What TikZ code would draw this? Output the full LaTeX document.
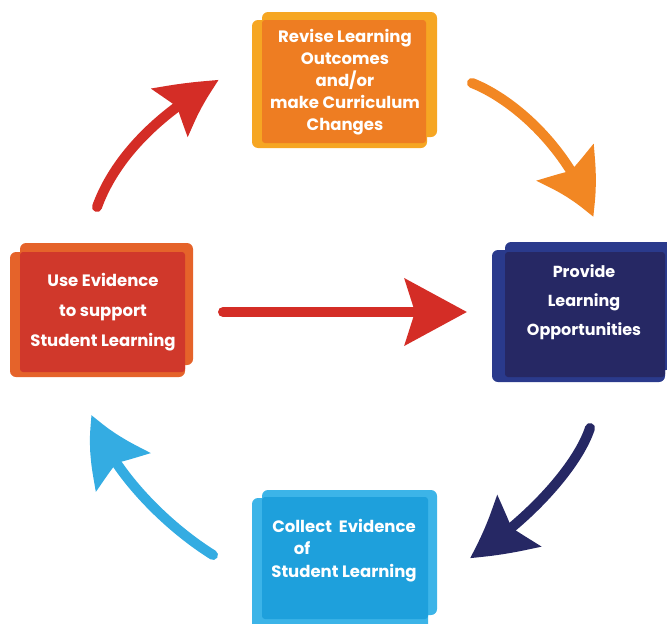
\documentclass[tikz,border=0pt]{standalone}
\usepackage{fontspec}
\setmainfont{Poppins}
\usetikzlibrary{arrows.meta,bending}
\definecolor{orFace}{RGB}{238,125,34}
\definecolor{orBand}{RGB}{246,166,35}
\definecolor{nvFace}{RGB}{38,40,100}
\definecolor{nvBand}{RGB}{42,58,140}
\definecolor{blFace}{RGB}{30,160,220}
\definecolor{blBand}{RGB}{60,180,232}
\definecolor{rdFace}{RGB}{208,56,43}
\definecolor{rdBand}{RGB}{229,99,42}
\definecolor{arRed}{RGB}{212,45,38}
\definecolor{arOrange}{RGB}{242,135,35}
\definecolor{arNavy}{RGB}{38,40,100}
\definecolor{arBlue}{RGB}{52,172,226}
\tikzset{
  band/.style={rounded corners=6pt},
  face/.style={rectangle, rounded corners=3pt, inner sep=0pt},
  lbl/.style={text=white, font=\bfseries\fontsize{16.5}{22}\selectfont, align=center},
  curvearrow/.style={line width=10pt, line cap=round,
     -{Stealth[length=62pt,width=66pt,inset=10pt,bend]}},
}
\begin{document}
\begin{tikzpicture}[x=1pt,y=-1pt]
\useasboundingbox (0,0) rectangle (667,624);
% top box
\fill[orBand,band] (262,12) rectangle (437,137);
\fill[orBand,band] (252,20) rectangle (427,148);
\node[face,fill=orFace,minimum width=164pt,minimum height=123pt] (revise) at (344,81.5) {};
\node[lbl] (reviseT) at (345,82.5) {Revise Learning\\Outcomes\\and/or\\make Curriculum\\Changes};
% right box
\fill[nvBand,band] (505,242) rectangle (672,370);
\fill[nvBand,band] (492,250) rectangle (665,382);
\node[face,fill=nvFace,minimum width=160pt,minimum height=125pt] (provide) at (585,314.5) {};
\node[lbl,font=\bfseries\fontsize{16}{29}\selectfont] (provideT) at (584,302) {Provide\\Learning\\Opportunities};
% bottom box
\fill[blBand,band] (262,490) rectangle (437,615);
\fill[blBand,band] (252,498) rectangle (428,630);
\node[face,fill=blFace,minimum width=166pt,minimum height=122pt] (collect) at (345,558) {};
\node[lbl,font=\bfseries\fontsize{16.5}{22.5}\selectfont] (collectT) at (344,550.5) {Collect~~Evidence\\of\hspace*{84pt}\null\\Student Learning};
% left box
\fill[rdBand,band] (20,243) rectangle (193,365);
\fill[rdBand,band] (10,252) rectangle (185,377);
\node[face,fill=rdFace,minimum width=165pt,minimum height=120pt] (use) at (102.5,312) {};
\node[lbl,font=\bfseries\fontsize{16.5}{30}\selectfont] (useT) at (103,312) {Use Evidence\\to support\\Student Learning};
% arrows
\coordinate (a1s) at (97,207);   \coordinate (a1e) at (219,80);
\coordinate (a2s) at (472,83);   \coordinate (a2e) at (593,217);
\coordinate (a3s) at (590,428);  \coordinate (a3e) at (470,558);
\coordinate (a4s) at (213,555);  \coordinate (a4e) at (92,415);
\coordinate (a5s) at (223,312);  \coordinate (a5e) at (467,312);
\draw[curvearrow,arRed,-{Stealth[length=62pt,width=58pt,inset=10pt,bend]}] (a1s) .. controls (112,165) and (150,118) .. (a1e);
\draw[curvearrow,arOrange] (a2s) .. controls (515,100) and (570,150) .. (a2e);
\draw[curvearrow,arNavy] (a3s) .. controls (578,465) and (530,520) .. (a3e);
\draw[curvearrow,arBlue] (a4s) .. controls (165,525) and (110,470) .. (a4e);
\draw[curvearrow,arRed] (a5s) -- (a5e);
\end{tikzpicture}
\end{document}
